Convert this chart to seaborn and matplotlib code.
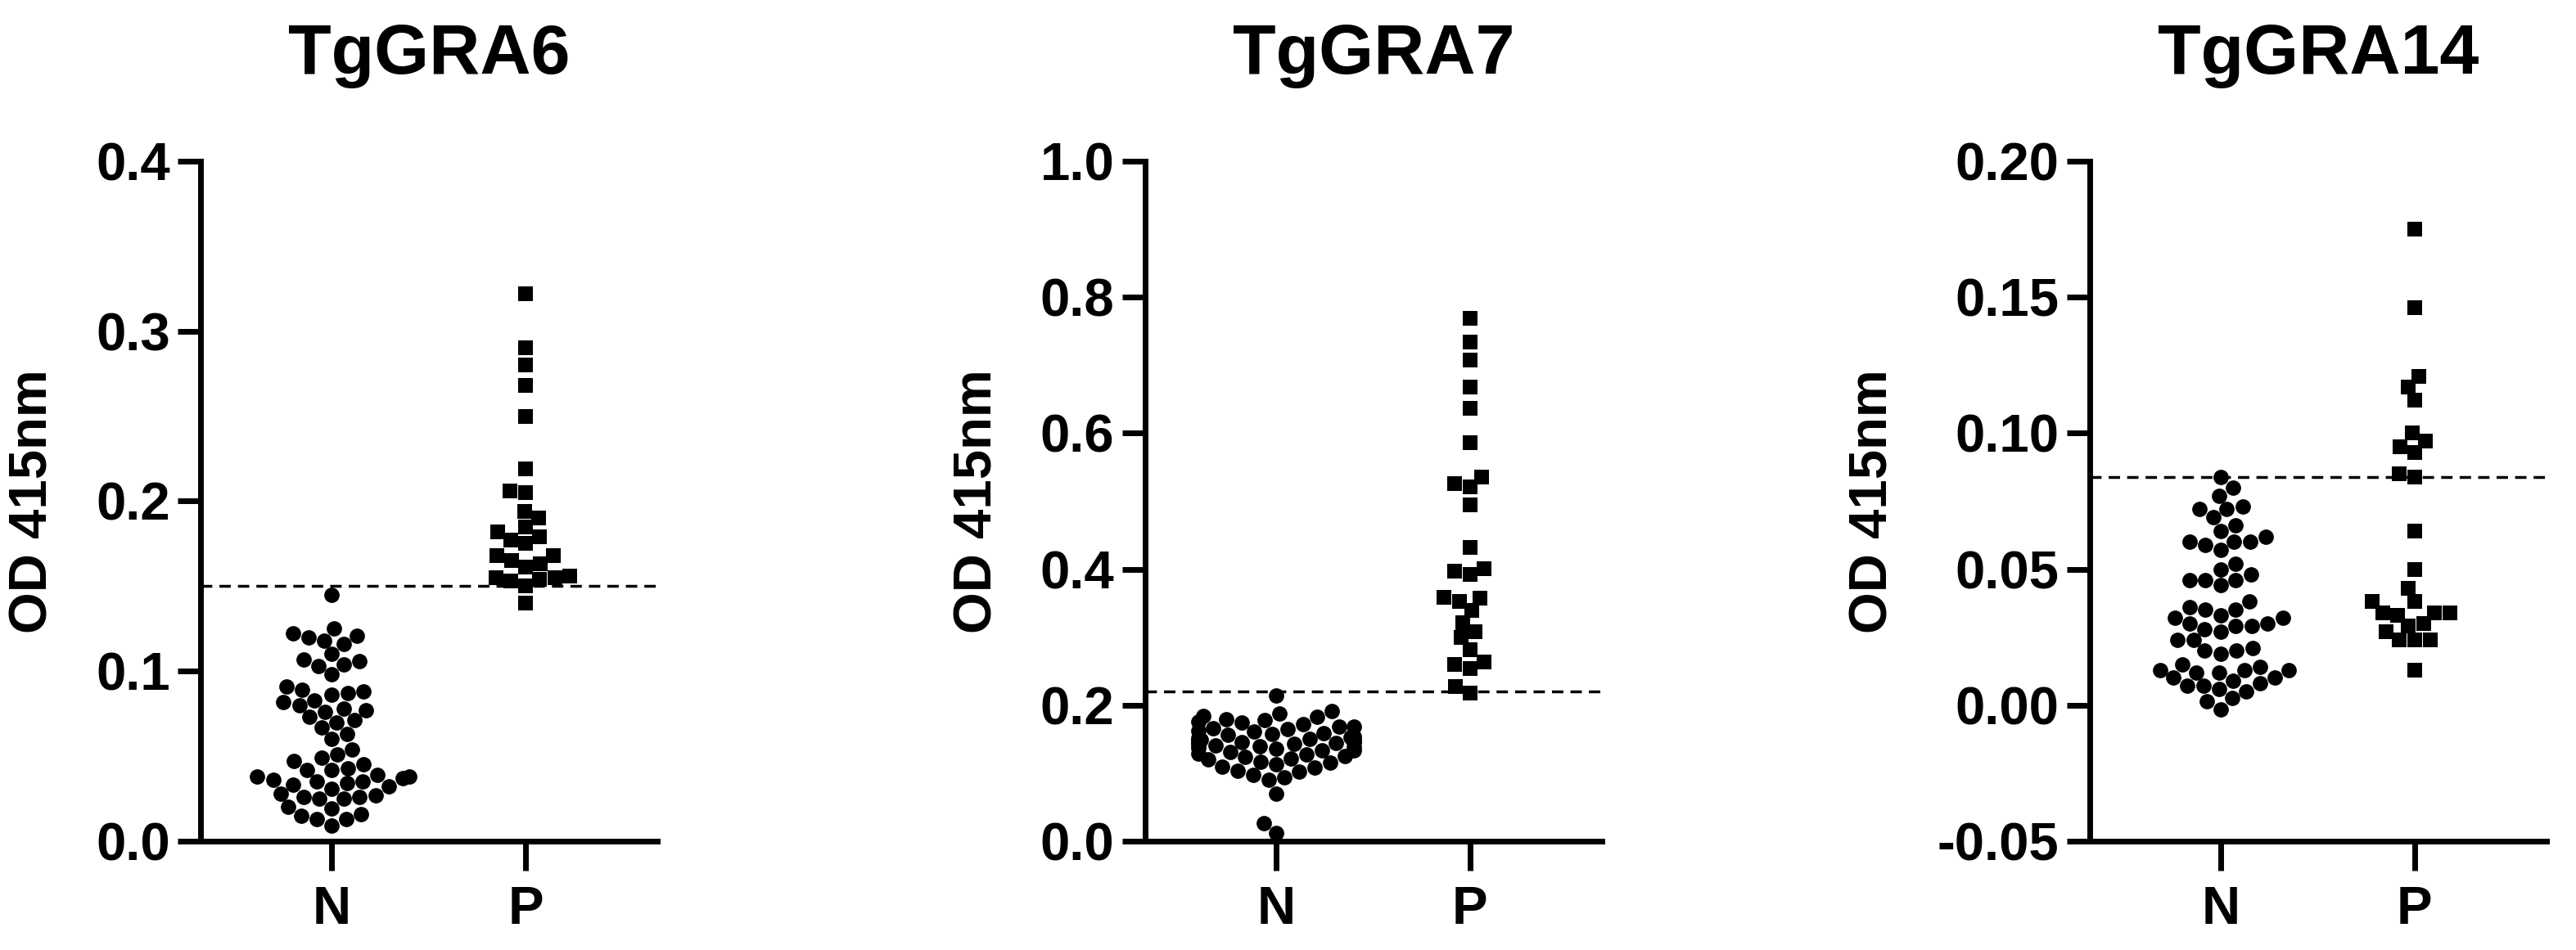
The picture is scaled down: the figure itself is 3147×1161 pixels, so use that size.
import matplotlib.pyplot as plt
import pandas as pd
import seaborn as sns

# OD 415nm readings, N = negative sera, P = positive sera
groups = ["N", "P"]
titles = ["TgGRA6", "TgGRA7", "TgGRA14"]

gra6_neg = [0.145,
            0.125, 0.121, 0.120, 0.118, 0.116, 0.122,
            0.110, 0.107, 0.106, 0.103, 0.104, 0.098,
            0.091,
            0.088, 0.089, 0.087, 0.086, 0.083, 0.082,
            0.080, 0.077, 0.076, 0.078, 0.073, 0.071, 0.070,
            0.067, 0.063,
            0.060,
            0.054, 0.051, 0.049,
            0.047, 0.043, 0.045, 0.042, 0.042,
            0.038, 0.039, 0.038, 0.037, 0.035, 0.036, 0.035, 0.032, 0.031, 0.033, 0.034,
            0.028, 0.025, 0.025, 0.026, 0.027, 0.026,
            0.020, 0.019, 0.013, 0.015, 0.016, 0.013,
            0.009]
gra6_pos = [0.322, 0.290, 0.280, 0.268, 0.250, 0.219, 0.205, 0.206, 0.194, 0.190,
            0.182, 0.185, 0.175, 0.179, 0.177, 0.168, 0.168, 0.165, 0.163, 0.161,
            0.155, 0.155, 0.156, 0.154, 0.153, 0.150, 0.140]

gra7_neg = [0.214,
            0.191, 0.188, 0.184, 0.183, 0.179, 0.178, 0.175, 0.176, 0.172, 0.169,
            0.168, 0.165, 0.166, 0.162, 0.161, 0.159, 0.158, 0.156, 0.154, 0.153,
            0.151, 0.150, 0.149, 0.149, 0.148, 0.147, 0.146, 0.146, 0.145, 0.144,
            0.143, 0.142, 0.141, 0.140, 0.138, 0.137, 0.136, 0.134, 0.133, 0.131,
            0.129, 0.128, 0.125, 0.124, 0.121, 0.120, 0.117, 0.115, 0.113, 0.110,
            0.108, 0.104, 0.102, 0.097, 0.094, 0.090,
            0.070, 0.027, 0.012]
gra7_pos = [0.769, 0.734, 0.707, 0.668, 0.636, 0.586, 0.521, 0.495, 0.432, 0.401,
            0.352, 0.321, 0.281, 0.254,
            0.535, 0.397, 0.358, 0.308, 0.263, 0.218,
            0.526, 0.392, 0.357, 0.339, 0.299, 0.260, 0.227]

gra14_neg = [0.084, 0.080,
             0.077, 0.073, 0.072, 0.072, 0.069,
             0.066, 0.064, 0.062, 0.060, 0.060, 0.060, 0.059, 0.057,
             0.050, 0.052, 0.044, 0.046, 0.046, 0.048, 0.046,
             0.036, 0.035, 0.038, 0.035, 0.033, 0.032, 0.030, 0.032, 0.030, 0.029,
             0.028, 0.027, 0.029,
             0.024, 0.024, 0.021, 0.020, 0.019, 0.020,
             0.015, 0.013, 0.012, 0.013, 0.013, 0.014, 0.012, 0.010, 0.009, 0.010,
             0.007, 0.007, 0.008, 0.006, 0.005, 0.0015, 0.0025, -0.0015]
gra14_pos = [0.175, 0.146, 0.117, 0.112, 0.095, 0.085, 0.064, 0.050, 0.038, 0.034,
             0.024, 0.013,
             0.121, 0.100, 0.093, 0.034, 0.029,
             0.043, 0.033, 0.024,
             0.097, 0.084, 0.034, 0.027,
             0.038, 0.030, 0.024]

cutoffs = [0.150, 0.220, 0.084]
y_limits = [(0.0, 0.4), (0.0, 1.0), (-0.05, 0.20)]
y_ticks = [[0.0, 0.1, 0.2, 0.3, 0.4],
           [0.0, 0.2, 0.4, 0.6, 0.8, 1.0],
           [-0.05, 0.00, 0.05, 0.10, 0.15, 0.20]]
y_ticklabels = [["0.0", "0.1", "0.2", "0.3", "0.4"],
                ["0.0", "0.2", "0.4", "0.6", "0.8", "1.0"],
                ["-0.05", "0.00", "0.05", "0.10", "0.15", "0.20"]]

negs = [gra6_neg, gra7_neg, gra14_neg]
poss = [gra6_pos, gra7_pos, gra14_pos]

sns.set_style("ticks")
plt.rcParams['font.family'] = ['Liberation Sans', 'DejaVu Sans']
plt.rcParams['font.weight'] = 'bold'
# plain black everywhere, like the GraphPad original
for key in ['text.color', 'axes.labelcolor', 'xtick.color', 'ytick.color', 'axes.edgecolor']:
    plt.rcParams[key] = 'black'

fig = plt.figure(figsize=(31.47, 11.61), dpi=100)
lefts = [0.0779, 0.4445, 0.8112]
label_x = [-0.367, -0.367, -0.473]

for i in range(3):
    ax = fig.add_axes([lefts[i], 0.1146, 0.1773, 0.7158])
    df_n = pd.DataFrame({"group": "N", "od": negs[i]})
    df_p = pd.DataFrame({"group": "P", "od": poss[i]})
    sns.swarmplot(data=df_n, x="group", y="od", order=groups, color="black",
                  marker="o", size=13.5, linewidth=0, ax=ax)
    sns.swarmplot(data=df_p, x="group", y="od", order=groups, color="black",
                  marker="s", size=13, linewidth=0, ax=ax)
    ax.axhline(cutoffs[i], color="black", lw=2.5, ls=(0, (4, 2.5)))

    ax.set_xlim(-0.675, 1.68)
    ax.set_ylim(*y_limits[i])
    ax.set_yticks(y_ticks[i])
    ax.set_yticklabels(y_ticklabels[i])
    sns.despine(ax=ax)
    for s in ["left", "bottom"]:
        ax.spines[s].set_linewidth(5)
    ax.tick_params(axis="y", length=20, width=5, labelsize=47, pad=7)
    ax.tick_params(axis="x", length=26, width=5, labelsize=47, pad=13)

    ax.set_xlabel("")
    ax.set_ylabel("OD 415nm", fontsize=47, fontweight="bold", va="center")
    ax.yaxis.set_label_coords(label_x[i], 0.5)
    ax.set_title(titles[i], fontsize=62, fontweight="bold", pad=77)

fig.savefig("out.png", dpi=100)
